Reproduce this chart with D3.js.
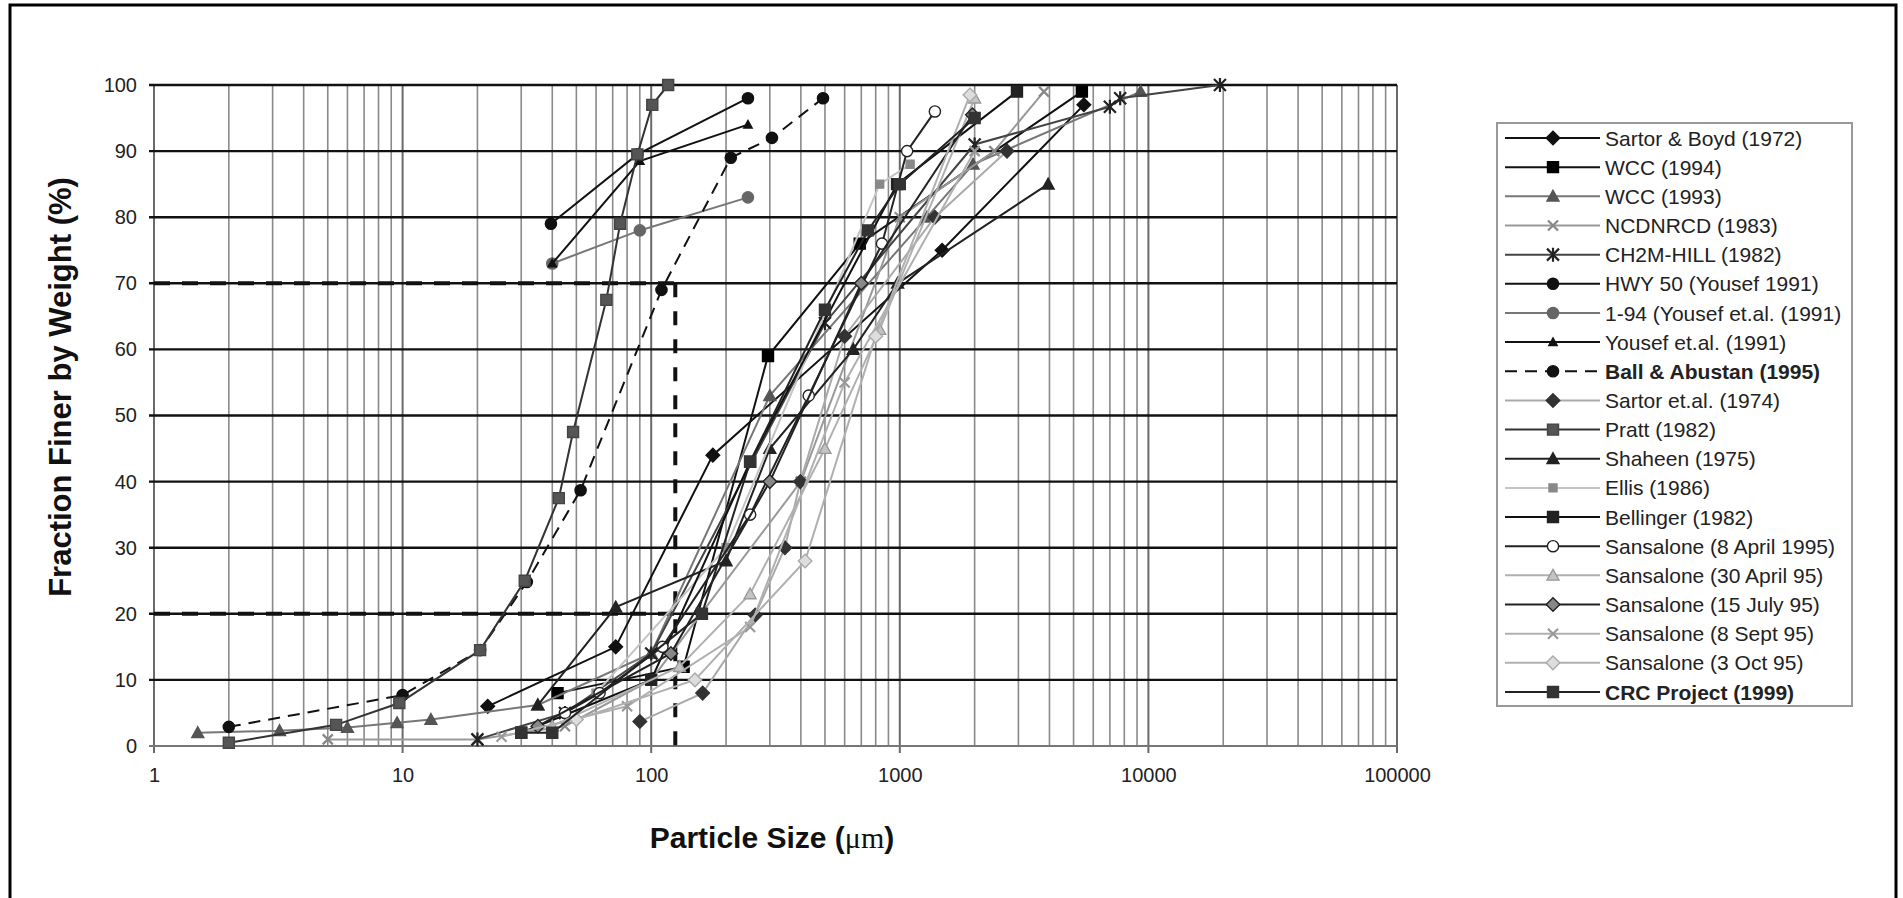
<!DOCTYPE html>
<html>
<head>
<meta charset="utf-8">
<script src="https://cdn.jsdelivr.net/npm/d3@7"></script>
<style>
  body { margin: 0; background: #fff; }
  svg { display: block; font-family: "Liberation Sans", Arial, sans-serif; }
</style>
</head>
<body>
<svg id="chart" width="1903" height="898"></svg>
<script>
// Tick values
const xTicks = [1, 10, 100, 1000, 10000, 100000];
const yTicks = [0, 10, 20, 30, 40, 50, 60, 70, 80, 90, 100];

// Particle size distributions: [size (µm), % finer by weight]
const sartorBoyd1972 = [[22, 6], [72, 15], [177, 44], [1480, 75], [5500, 97]];
const wcc1994 = [[42, 8], [135, 12], [295, 59], [690, 76], [5400, 99]];
const wcc1993 = [[1.5, 2], [3.2, 2.3], [6, 2.8], [9.5, 3.5], [13, 4], [35, 6.2], [100, 14], [300, 53], [1286, 80], [1970, 88], [9300, 99]];
const ncdnrcd1983 = [[5, 1], [20, 1], [45, 3], [100, 10], [400, 40], [1000, 80], [2400, 90], [3800, 99]];
const ch2mHill1982 = [[20, 1], [45, 5], [100, 14], [500, 64], [2000, 91], [7000, 96.7], [7700, 98], [19400, 100]];
const hwy50 = [[39.5, 79], [88, 89.5], [245, 98]];
const i94 = [[40, 73], [90, 78], [245, 83]];
const yousef1991 = [[40, 73], [90, 88.5], [245, 94]];
const ballAbustan1995 = [[2, 2.9], [10, 7.7], [20.5, 14.5], [31.6, 24.8], [52, 38.7], [110, 69], [209, 89], [306, 92], [491, 98]];
const sartor1974 = [[90, 3.7], [161, 8], [262, 19.8], [345, 30], [398, 40], [600, 62], [1384, 80], [2700, 90]];
const pratt1982 = [[2, 0.5], [5.4, 3.2], [9.7, 6.5], [20.5, 14.5], [31, 25], [42.5, 37.5], [48.5, 47.5], [66, 67.5], [75, 79], [88, 89.5], [101, 97], [117, 100]];
const shaheen1975 = [[35, 6.2], [72, 21], [200, 28], [300, 45], [650, 60], [980, 70], [3950, 85]];
const ellis1986 = [[60, 8], [200, 30], [830, 85], [1100, 88]];
const bellinger1982 = [[30, 2], [100, 10], [250, 43], [975, 85], [2960, 99]];
const sansalone8Apr = [[45, 5], [62, 8], [111, 15], [250, 35], [430, 53], [848, 76], [1070, 90], [1384, 96]];
const sansalone30Apr = [[40, 3], [130, 12], [250, 23], [500, 45], [830, 63], [2000, 98]];
const sansalone15Jul = [[35, 3], [120, 14], [300, 40], [700, 70], [1960, 95.5]];
const sansalone8Sep = [[25, 1.4], [80, 6], [250, 18], [600, 55], [2000, 90]];
const sansalone3Oct = [[50, 4], [150, 10], [416, 28], [800, 62], [1915, 98.5]];
const crcProject1999 = [[30, 2], [40, 2], [160, 20], [250, 43], [500, 66], [745, 78], [1000, 85], [2000, 95]];

// Reference lines: 70 % and 20 % finer, and the 125 µm size
const refSize = 125;
const refLevels = [70, 20];

// Series table: name, data, line colour, marker, marker fill, marker stroke
const series = [
  { name: "Sartor & Boyd (1972)", data: sartorBoyd1972, line: "#111", shape: "diamond", fill: "#111", stroke: "#111" },
  { name: "WCC (1994)", data: wcc1994, line: "#111", shape: "square", fill: "#000", stroke: "#000" },
  { name: "WCC (1993)", data: wcc1993, line: "#777", shape: "triangle", fill: "#555", stroke: "#555" },
  { name: "NCDNRCD (1983)", data: ncdnrcd1983, line: "#999", shape: "times", fill: "none", stroke: "#888" },
  { name: "CH2M-HILL (1982)", data: ch2mHill1982, line: "#444", shape: "asterisk", fill: "none", stroke: "#222" },
  { name: "HWY 50 (Yousef 1991)", data: hwy50, line: "#111", shape: "circle", fill: "#111", stroke: "#111" },
  { name: "1-94 (Yousef et.al. (1991)", data: i94, line: "#777", shape: "circle", fill: "#666", stroke: "#666" },
  { name: "Yousef et.al. (1991)", data: yousef1991, line: "#111", shape: "smalltriangle", fill: "#111", stroke: "#111" },
  { name: "Ball & Abustan (1995)", data: ballAbustan1995, line: "#111", shape: "circle", fill: "#111", stroke: "#111", dashed: true, bold: true },
  { name: "Sartor et.al. (1974)", data: sartor1974, line: "#aaa", shape: "diamond", fill: "#333", stroke: "#333" },
  { name: "Pratt (1982)", data: pratt1982, line: "#333", shape: "square", fill: "#555", stroke: "#444" },
  { name: "Shaheen (1975)", data: shaheen1975, line: "#222", shape: "triangle", fill: "#222", stroke: "#222" },
  { name: "Ellis (1986)", data: ellis1986, line: "#c4c4c4", shape: "smallsquare", fill: "#888", stroke: "#888" },
  { name: "Bellinger (1982)", data: bellinger1982, line: "#111", shape: "square", fill: "#222", stroke: "#222" },
  { name: "Sansalone (8 April 1995)", data: sansalone8Apr, line: "#222", shape: "circle", fill: "#fff", stroke: "#222" },
  { name: "Sansalone (30 April 95)", data: sansalone30Apr, line: "#b0b0b0", shape: "triangle", fill: "#c4c4c4", stroke: "#999" },
  { name: "Sansalone (15 July 95)", data: sansalone15Jul, line: "#222", shape: "diamond", fill: "#888", stroke: "#222" },
  { name: "Sansalone (8 Sept 95)", data: sansalone8Sep, line: "#b0b0b0", shape: "times", fill: "none", stroke: "#999" },
  { name: "Sansalone (3 Oct 95)", data: sansalone3Oct, line: "#b0b0b0", shape: "diamond", fill: "#ddd", stroke: "#aaa" },
  { name: "CRC Project (1999)", data: crcProject1999, line: "#222", shape: "square", fill: "#333", stroke: "#333", bold: true }
];

const svg = d3.select("#chart");

// Outer frame
svg.append("rect")
  .attr("x", 10).attr("y", 5).attr("width", 1886).attr("height", 905)
  .attr("fill", "#fff").attr("stroke", "#000").attr("stroke-width", 3);

const plot = { left: 154, right: 1397, top: 85, bottom: 746 };
const x = d3.scaleLog().domain([1, 100000]).range([plot.left, plot.right]);
const y = d3.scaleLinear().domain([0, 100]).range([plot.bottom, plot.top]);

// Minor vertical grid (2..9 within each decade)
const minorX = [];
for (let d = 1; d < 100000; d *= 10) for (let k = 2; k <= 9; k++) minorX.push(d * k);
const grid = svg.append("g");
grid.selectAll("line.minor").data(minorX).join("line")
  .attr("x1", d => x(d)).attr("x2", d => x(d))
  .attr("y1", plot.top).attr("y2", plot.bottom)
  .attr("stroke", "#8a8a8a").attr("stroke-width", 1.6);

// Major vertical grid at each decade, running slightly below the axis
grid.selectAll("line.major").data(xTicks).join("line")
  .attr("x1", d => x(d)).attr("x2", d => x(d))
  .attr("y1", plot.top).attr("y2", plot.bottom + 7)
  .attr("stroke", "#6a6a6a").attr("stroke-width", 2);

// Horizontal grid every 10 %
grid.selectAll("line.h").data(yTicks).join("line")
  .attr("x1", plot.left - 5).attr("x2", plot.right)
  .attr("y1", d => y(d)).attr("y2", d => y(d))
  .attr("stroke", d => d === 0 ? "#777" : "#111")
  .attr("stroke-width", d => d === 0 ? 1.8 : 2.4);

// Axes (labels only; the grid carries the lines)
const xAxis = svg.append("g").attr("transform", `translate(0,${plot.bottom})`)
  .call(d3.axisBottom(x).tickValues(xTicks).tickFormat(d3.format("d")).tickSize(0).tickPadding(22));
const yAxis = svg.append("g").attr("transform", `translate(${plot.left},0)`)
  .call(d3.axisLeft(y).tickValues(yTicks).tickSize(0).tickPadding(17));
[xAxis, yAxis].forEach(a => {
  a.select(".domain").remove();
  a.selectAll("text").attr("font-size", 20).attr("fill", "#222")
    .attr("font-family", "'Liberation Sans', Arial, sans-serif");
});

// Dashed reference lines
const ref = svg.append("g").attr("stroke", "#111").attr("stroke-width", 4).attr("fill", "none");
ref.selectAll("line.lvl").data(refLevels).join("line")
  .attr("x1", x(1)).attr("x2", x(refSize))
  .attr("y1", d => y(d)).attr("y2", d => y(d))
  .attr("stroke-dasharray", "16,12");
ref.append("line")
  .attr("x1", x(refSize)).attr("x2", x(refSize))
  .attr("y1", y(d3.max(refLevels))).attr("y2", y(0))
  .attr("stroke-dasharray", "14,14");

// Marker shapes (paths centred on the origin)
function markerPath(shape) {
  const r = {
    diamond: 6.8, square: 5.5, smallsquare: 4, triangle: 6, smalltriangle: 4.2,
    circle: 5.6, times: 5, asterisk: 6
  }[shape];
  switch (shape) {
    case "diamond":
      return `M0,${-r}L${r},0L0,${r}L${-r},0Z`;
    case "square":
    case "smallsquare":
      return `M${-r},${-r}H${r}V${r}H${-r}Z`;
    case "triangle":
    case "smalltriangle":
      return `M0,${-r}L${r},${r * 0.8}H${-r}Z`;
    case "circle":
      return d3.symbol().type(d3.symbolCircle).size(Math.PI * r * r)();
    case "times":
      return `M${-r},${-r}L${r},${r}M${-r},${r}L${r},${-r}`;
    case "asterisk":
      return `M${-r},${-r}L${r},${r}M${-r},${r}L${r},${-r}M0,${-r - 1}V${r + 1}`;
  }
}
const strokeShapes = new Set(["times", "asterisk"]);
function drawMarker(g, s, px, py) {
  const p = g.append("path")
    .attr("d", markerPath(s.shape))
    .attr("transform", `translate(${px},${py})`);
  if (strokeShapes.has(s.shape)) {
    p.attr("fill", "none").attr("stroke", s.stroke).attr("stroke-width", 2.2);
  } else {
    p.attr("fill", s.fill).attr("stroke", s.stroke).attr("stroke-width", 1.4);
  }
}

// Series lines and markers
const line = d3.line().x(d => x(d[0])).y(d => y(d[1]));
const marks = svg.append("g");
series.forEach(s => {
  const g = marks.append("g");
  g.append("path").datum(s.data)
    .attr("d", line)
    .attr("fill", "none")
    .attr("stroke", s.line)
    .attr("stroke-width", 2)
    .attr("stroke-dasharray", s.dashed ? "12,8" : null);
  s.data.forEach(d => drawMarker(g, s, x(d[0]), y(d[1])));
});

// Legend
const legend = svg.append("g");
legend.append("rect")
  .attr("x", 1497).attr("y", 123).attr("width", 355).attr("height", 583)
  .attr("fill", "#fff").attr("stroke", "#999").attr("stroke-width", 2);
const rowStep = (692 - 138) / (series.length - 1);
series.forEach((s, i) => {
  const cy = 138 + i * rowStep;
  const g = legend.append("g");
  g.append("line").attr("x1", 1505).attr("x2", 1600).attr("y1", cy).attr("y2", cy)
    .attr("stroke", s.line).attr("stroke-width", 2)
    .attr("stroke-dasharray", s.dashed ? "12,8" : null);
  drawMarker(g, s, 1553, cy);
  g.append("text").attr("x", 1605).attr("y", cy).attr("dy", "0.36em")
    .attr("font-size", 21).attr("fill", "#222")
    .attr("font-weight", s.bold ? "bold" : "normal")
    .text(s.name);
});

// Axis titles
svg.append("text")
  .attr("transform", `translate(71,387) rotate(-90)`)
  .attr("text-anchor", "middle")
  .attr("font-size", 31).attr("font-weight", "bold").attr("fill", "#111")
  .text("Fraction Finer by Weight (%)");
const xt = svg.append("text")
  .attr("x", 772).attr("y", 848)
  .attr("text-anchor", "middle")
  .attr("font-size", 30).attr("font-weight", "bold").attr("fill", "#111");
xt.append("tspan").text("Particle Size (");
xt.append("tspan").attr("font-family", "'Liberation Serif', 'DejaVu Serif', serif").attr("font-weight", "normal").text("μm");
xt.append("tspan").text(")");
</script>
</body>
</html>
